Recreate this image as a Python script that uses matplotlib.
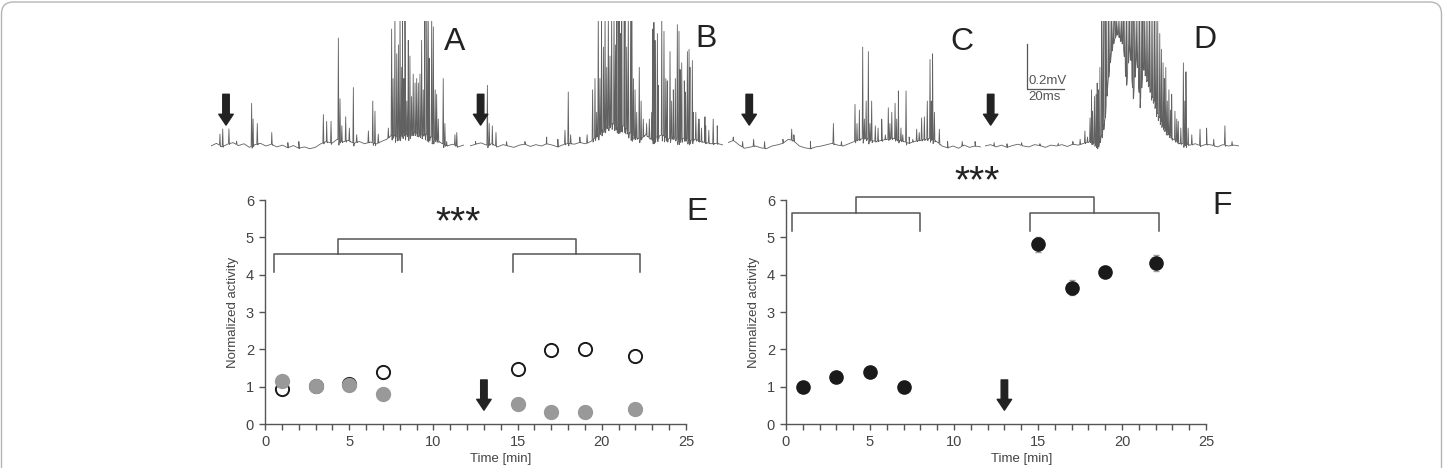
import numpy as np
import matplotlib
matplotlib.use("Agg")
import matplotlib.pyplot as plt
from matplotlib.patches import FancyBboxPatch

plt.rcParams['font.family'] = ['Liberation Sans', 'DejaVu Sans']

# ---- raw traces (ms, mV): baseline/floor samples and spike peaks
grid3 = np.arange(0, 139, 3)   # baseline sampled every 3 ms

A_base_t = grid3
A_base_v = [0.0, 0.012, -0.004, 0.008, 0.015, 0.002, 0.01, -0.006, 0.006, 0.012, 0.0, 0.008,
            -0.004, 0.004, -0.008, 0.002, -0.01, -0.004, -0.012, -0.006, 0.01, 0.02, 0.012, 0.03,
            0.018, 0.025, 0.012, 0.02, 0.01, 0.018, 0.008, 0.02, 0.03, 0.05, 0.04, 0.06, 0.045,
            0.06, 0.05, 0.055, 0.04, 0.03, 0.012, 0.0, 0.008, -0.004, 0.004]
A_spk_t = [4.9, 6.4, 9.8, 14.0, 22.2, 23.0, 25.3, 33.2, 42, 48, 61.4, 63.2, 65.6, 69.6, 70.5,
           71.5, 73.6, 75.6, 77.8, 79.6, 86.0, 88.4, 89.6, 91.4, 96.9, 98.7, 99.5, 100.5, 101.5,
           102.4, 103.3, 104.2, 104.7, 105.4, 106.0, 107.0, 107.8, 108.7, 109.6, 110.5, 111.5,
           112.4, 113.3, 114.2, 115.1, 116.0, 116.9, 117.9, 118.7, 119.3, 120.6, 121.5, 122.5,
           123.3, 124.2, 126.9, 127.8, 128.8, 133.3, 134.3]
A_spk_v = [0.053, 0.076, 0.076, 0.022, 0.19, 0.12, 0.10, 0.06, 0.015, 0.02, 0.14, 0.11, 0.11,
           0.48, 0.21, 0.09, 0.13, 0.08, 0.26, 0.05, 0.067, 0.20, 0.155, 0.053, 0.08, 0.52, 0.3,
           0.6, 0.41, 0.45, 0.6, 0.35, 0.6, 0.3, 0.6, 0.2, 0.47, 0.40, 0.22, 0.32, 0.28, 0.30,
           0.28, 0.32, 0.47, 0.25, 0.6, 0.6, 0.6, 0.39, 0.6, 0.53, 0.25, 0.23, 0.12, 0.30, 0.10,
           0.02, 0.05, 0.06]

B_base_t = grid3
B_base_v = [0.0, 0.008, 0.014, 0.004, 0.01, -0.004, 0.006, 0.0, -0.006, 0.004, 0.008, -0.002,
            0.006, 0.0, 0.01, 0.004, -0.004, 0.006, 0.012, 0.008, 0.016, 0.01, 0.02, 0.04,
            0.07, 0.09, 0.1, 0.08, 0.09, 0.06, 0.04, 0.03, 0.05, 0.03, 0.04, 0.05, 0.03, 0.04,
            0.03, 0.035, 0.025, 0.03, 0.02, 0.015, 0.01, 0.012, 0.005]
B_spk_t = [3, 9.5, 10.5, 12.2, 14.2, 20, 30, 41.9, 48, 51.9, 53.7, 55, 60, 64, 67.0, 68.3, 69.2,
           70.1, 71.0, 71.9, 72.9, 73.8, 74.7, 75.6, 76.5, 77.4, 78.7, 79.5, 80.2, 81.0, 81.6,
           82.3, 82.9, 84.2, 84.7, 85.6, 86.5, 87.8, 88.4, 89.3, 90.2, 91.1, 92.5, 93.5, 94.7,
           96.5, 98.0, 99.3, 99.8, 100.5, 101.1, 102.4, 102.9, 104.8, 106.0, 107.0, 107.8,
           109.3, 110.2, 111.1, 112.2, 113.3, 114.2, 114.8, 115.7, 117.1, 117.8, 118.8, 119.7,
           120.2, 121.5, 122.0, 123.4, 124.8, 125.1, 126.5, 128.4, 128.8, 130.5, 132.9, 135.1]
B_spk_v = [0.02, 0.27, 0.10, 0.09, 0.06, 0.02, 0.02, 0.04, 0.03, 0.07, 0.24, 0.05, 0.04, 0.05,
           0.25, 0.30, 0.15, 0.6, 0.3, 0.6, 0.44, 0.6, 0.35, 0.6, 0.4, 0.6, 0.6, 0.45, 0.6, 0.6,
           0.6, 0.5, 0.6, 0.6, 0.6, 0.44, 0.6, 0.6, 0.6, 0.30, 0.25, 0.15, 0.35, 0.2, 0.12, 0.10,
           0.12, 0.15, 0.52, 0.55, 0.47, 0.50, 0.27, 0.6, 0.51, 0.3, 0.29, 0.42, 0.2, 0.25, 0.3,
           0.54, 0.51, 0.34, 0.37, 0.29, 0.24, 0.42, 0.43, 0.35, 0.38, 0.15, 0.15, 0.10, 0.12,
           0.08, 0.13, 0.09, 0.07, 0.12, 0.09]

C_base_t = grid3
C_base_v = [0.015, 0.025, 0.005, -0.01, -0.005, 0.0, -0.008, -0.012, 0.0, 0.005, 0.012, 0.03,
            0.022, 0.0, -0.008, -0.012, -0.004, 0.0, 0.006, 0.012, 0.004, 0.0, 0.01, 0.02,
            0.03, 0.035, 0.025, 0.02, 0.025, 0.03, 0.035, 0.025, 0.02, 0.012, 0.02, 0.025, 0.03,
            0.035, 0.02, 0.0, -0.008, 0.0, -0.01, 0.004, -0.006, 0.0, -0.004]
C_spk_t = [2.9, 8, 14, 20, 30, 34.8, 36.0, 45, 57.6, 62, 69.4, 70.5, 71.8, 73.6, 74.5, 75.5,
           76.7, 77.6, 78.5, 80.5, 82, 84.0, 86, 87.6, 88.5, 89.5, 91.3, 92.2, 93.1, 94.5, 95.5,
           97.3, 99, 101, 103.1, 104.5, 105.8, 107.3, 108.9, 110.4, 111.1, 111.8, 112.8, 115.5,
           120, 128, 135]
C_spk_v = [0.04, 0.02, 0.03, 0.02, 0.03, 0.075, 0.05, 0.02, 0.10, 0.02, 0.185, 0.10, 0.16,
           0.44, 0.12, 0.2, 0.42, 0.1, 0.20, 0.09, 0.08, 0.12, 0.05, 0.17, 0.1, 0.15, 0.19,
           0.12, 0.245, 0.08, 0.05, 0.245, 0.04, 0.03, 0.075, 0.06, 0.125, 0.13, 0.20, 0.385,
           0.2, 0.41, 0.15, 0.075, 0.02, 0.02, 0.02]

D_base_t = [0, 3, 6, 9, 12, 15, 18, 21, 24, 27, 30, 33, 36, 39, 42, 45, 48, 51, 54, 58, 61.9,
            63.8, 65.6, 67.4, 69.2, 71.0, 72.5, 74.0, 75.6, 77.4, 79.2, 81.0, 82.9, 84.7, 86.5,
            88.3, 90.0, 91.1, 92.5, 93.8, 96.6, 99.3, 102.9, 106.6, 109, 112, 115, 118, 121, 124,
            127, 130, 133, 136, 139]
D_base_v = [0.0, 0.006, -0.004, 0.004, -0.006, 0.002, 0.008, 0.0, -0.004, 0.006, 0.002, -0.006,
            0.004, 0.0, 0.006, -0.002, 0.008, 0.004, 0.012, 0.02, 0.0, 0.05, 0.12, 0.30, 0.42,
            0.48, 0.50, 0.47, 0.45, 0.27, 0.45, 0.21, 0.40, 0.18, 0.35, 0.30, 0.26, 0.22, 0.20,
            0.15, 0.10, 0.06, 0.03, 0.01, 0.012, 0.004, 0.01, 0.0, 0.008, 0.004, -0.004, 0.006,
            0.0, 0.004, 0.0]
D_spk_t = [5, 12, 20, 30, 40, 48, 52, 54.6, 56, 57.4, 58.2, 58.8, 59.8, 60.7, 61.3, 61.9, 62.8,
           63.8, 64.7, 65.6, 66.5, 67.4, 68.3, 69.2, 70.1, 71.0, 71.9, 72.8, 73.7, 74.6, 75.5,
           76.4, 77.3, 78.2, 79.1, 80.0, 80.9, 81.8, 82.7, 83.6, 84.5, 85.4, 86.3, 87.2, 88.1,
           89.0, 89.9, 90.8, 91.7, 92.6, 93.5, 94.4, 95.5, 96.4, 97.3, 98.0, 98.8, 99.6, 100.5,
           101.4, 102.0, 103.8, 104.8, 105.6, 107, 108.4, 109.2, 109.8, 111, 113, 117.5, 121.1,
           125, 131.1, 135]
D_spk_v = [0.015, 0.01, 0.015, 0.01, 0.012, 0.02, 0.03, 0.067, 0.04, 0.125, 0.25, 0.155, 0.22,
           0.23, 0.28, 0.25, 0.35, 0.556, 0.556, 0.556, 0.556, 0.556, 0.556, 0.556, 0.556,
           0.556, 0.556, 0.556, 0.556, 0.556, 0.556, 0.556, 0.556, 0.556, 0.556, 0.556, 0.556,
           0.556, 0.556, 0.556, 0.556, 0.556, 0.556, 0.556, 0.556, 0.556, 0.556, 0.556, 0.556,
           0.556, 0.556, 0.556, 0.5, 0.43, 0.37, 0.30, 0.35, 0.2, 0.25, 0.16, 0.23, 0.155, 0.12,
           0.11, 0.08, 0.37, 0.2, 0.33, 0.08, 0.05, 0.075, 0.08, 0.03, 0.09, 0.02]

trace_names = ['A', 'B', 'C', 'D']
stim_t = [8.2, 5.8, 11.6, 3.1]          # arrow (stimulus) time in each trace, ms

# ---- summary data
time_pts = [1, 3, 5, 7, 15, 17, 19, 22]
E_open = [0.93, 1.03, 1.07, 1.39, 1.46, 1.99, 2.02, 1.83]
E_open_err = [0.05, 0.05, 0.05, 0.06, 0.07, 0.08, 0.12, 0.12]
E_gray = [1.16, 1.03, 1.05, 0.81, 0.53, 0.33, 0.31, 0.40]
E_gray_err = [0.04, 0.04, 0.04, 0.04, 0.04, 0.04, 0.04, 0.04]
F_vals = [1.0, 1.25, 1.38, 1.0, 4.82, 3.65, 4.08, 4.32]
F_err = [0.05, 0.07, 0.07, 0.05, 0.2, 0.2, 0.14, 0.22]
arrow_min = 13


def build_trace(bt, bv, st, sv, w=0.28):
    # each spike: rise from the floor, peak, small undershoot, back to the floor
    pts = list(zip(bt, bv))
    for t, v in zip(st, sv):
        f0 = float(np.interp(t - w, bt, bv))
        f1 = float(np.interp(t + w, bt, bv))
        pts += [(t - w, f0), (t, v), (t + w, f1 - 0.05 * (v - f1)),
                (t + 2 * w, float(np.interp(t + 2 * w, bt, bv)))]
    pts.sort()
    arr = np.array(pts)
    return arr[:, 0], arr[:, 1]


fig = plt.figure(figsize=(14.43, 4.68), dpi=100)
W, H = 1443.0, 468.0

# rounded frame around the whole figure
frame = FancyBboxPatch((0.015, -1.0), 14.40, 4.66 + 1.0,
                       boxstyle='round,pad=0,rounding_size=0.12',
                       transform=fig.dpi_scale_trans, fill=False,
                       edgecolor='#b5b5b5', lw=1.0)
fig.patches.append(frame)

traces = [(A_base_t, A_base_v, A_spk_t, A_spk_v),
          (B_base_t, B_base_v, B_spk_t, B_spk_v),
          (C_base_t, C_base_v, C_spk_t, C_spk_v),
          (D_base_t, D_base_v, D_spk_t, D_spk_v)]
trace_left = [211, 470, 728, 985]
px_per_ms = 1.83
letter_pos = [(455, 42), (706, 39), (962, 42), (1205, 40)]
arrow_style = 'simple,head_length=0.6,head_width=0.8,tail_width=0.36'

for i, (bt, bv, st, sv) in enumerate(traces):
    ax = fig.add_axes([trace_left[i] / W, (H - 155) / H, 139 * px_per_ms / W, 134 / H])
    t, v = build_trace(bt, bv, st, sv)
    ax.plot(t, v, color='#3a3a3a', lw=0.6, alpha=0.8)
    ax.set_xlim(0, 139)
    ax.set_ylim(-0.04, 0.556)
    ax.axis('off')
    ax.annotate('', xy=(stim_t[i], 0.093), xytext=(stim_t[i], 0.23),
                arrowprops=dict(arrowstyle=arrow_style, color='#222222',
                                mutation_scale=13, shrinkA=0, shrinkB=0))
    fig.text(letter_pos[i][0] / W, 1 - letter_pos[i][1] / H, trace_names[i],
             fontsize=23, color='#222222', ha='center', va='center')
    if trace_names[i] == 'D':
        # scale bar 0.2 mV / 20 ms
        ax.plot([23, 23, 43], [0.453, 0.253, 0.253], color='#555555', lw=0.9)
        ax.text(23.6, 0.262, '0.2mV', fontsize=9.5, color='#555555', ha='left', va='bottom')
        ax.text(23.6, 0.244, '20ms', fontsize=9.5, color='#555555', ha='left', va='top')


def style_axes(ax):
    for s in ['top', 'right']:
        ax.spines[s].set_visible(False)
    for s in ['left', 'bottom']:
        ax.spines[s].set_color('#555555')
        ax.spines[s].set_linewidth(1.0)
    ax.set_xlim(0, 25)
    ax.set_ylim(0, 6)
    ax.set_xticks([0, 5, 10, 15, 20, 25])
    ax.set_xticks(np.arange(0, 26, 1), minor=True)
    ax.set_yticks([0, 1, 2, 3, 4, 5, 6])
    ax.tick_params(axis='both', which='both', direction='out', length=4, width=1,
                   color='#555555', labelcolor='#444444', labelsize=10.5, pad=4)
    ax.set_ylabel('Normalized activity', fontsize=9.5, color='#444444', labelpad=5)
    ax.set_xlabel('Time [min]', fontsize=9.5, color='#444444', labelpad=1)
    ax.xaxis.set_label_coords(0.56, -0.13)


def bracket(ax, left, right, top_x, levels):
    low, mid, top = levels
    for x0, x1 in (left, right):
        ax.plot([x0, x0, x1, x1], [low, mid, mid, low], color='#555555', lw=1.1, clip_on=False)
    ax.plot([top_x[0], top_x[0], top_x[1], top_x[1]], [mid, top, top, mid],
            color='#555555', lw=1.1, clip_on=False)


def min_arrow(ax, x):
    ax.annotate('', xy=(x, 0.37), xytext=(x, 1.18),
                arrowprops=dict(arrowstyle=arrow_style, color='#222222',
                                mutation_scale=13, shrinkA=0, shrinkB=0))


# ---- panel E
axE = fig.add_axes([265 / W, 44 / H, 421 / W, 224 / H])
style_axes(axE)
axE.errorbar(time_pts, E_open, yerr=E_open_err, fmt='o', ms=9.5, mfc='white', mec='#1a1a1a',
             mew=1.4, ecolor='#888888', elinewidth=1, capsize=2, zorder=3)
axE.errorbar(time_pts, E_gray, yerr=E_gray_err, fmt='o', ms=10, mfc='#999999', mec='#999999',
             mew=1.0, ecolor='#999999', elinewidth=1, capsize=2, zorder=4)
bracket(axE, (0.55, 8.15), (14.7, 22.25), (4.35, 18.47), (4.07, 4.55, 4.95))
axE.text(11.48, 5.12, '***', fontsize=28, color='#222222', ha='center', va='baseline')
min_arrow(axE, arrow_min)
fig.text(697 / W, 1 - 212 / H, 'E', fontsize=23, color='#222222', ha='center', va='center')

# ---- panel F
axF = fig.add_axes([786 / W, 44 / H, 420 / W, 224 / H])
style_axes(axF)
axF.errorbar(time_pts, F_vals, yerr=F_err, fmt='o', ms=9.5, mfc='#1a1a1a', mec='#1a1a1a',
             ecolor='#999999', elinewidth=1, capsize=2, zorder=3)
bracket(axF, (0.38, 7.97), (14.52, 22.18), (4.15, 18.35), (5.17, 5.65, 6.07))
axF.text(11.39, 6.2, '***', fontsize=28, color='#222222', ha='center', va='baseline',
         clip_on=False)
min_arrow(axF, arrow_min)
fig.text(1222 / W, 1 - 206 / H, 'F', fontsize=23, color='#222222', ha='center', va='center')

fig.savefig('out.png', dpi=100)
